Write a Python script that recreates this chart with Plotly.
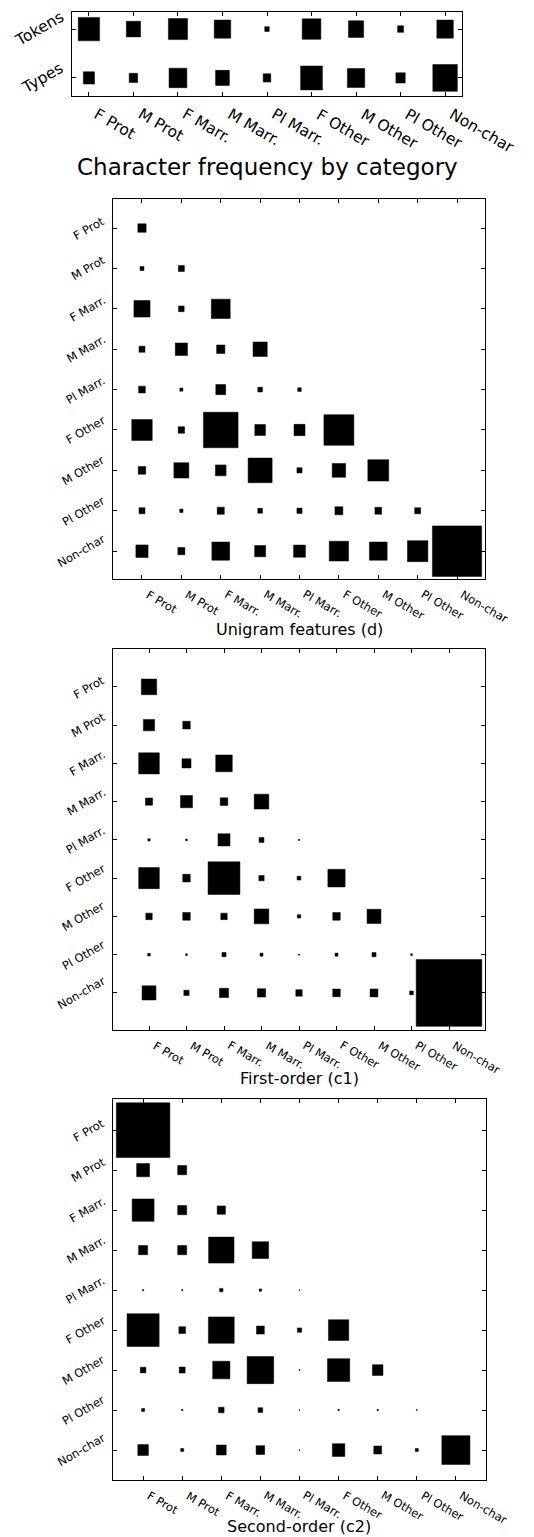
import math
import plotly.graph_objects as go

categories = ["F Prot", "M Prot", "F Marr.", "M Marr.", "Pl Marr.",
              "F Other", "M Other", "Pl Other", "Non-char"]
freq_rows = ["Tokens", "Types"]

# Hinton weights (square area ~ weight)
tokens = [0.230, 0.102, 0.185, 0.137, 0.010, 0.176, 0.116, 0.018, 0.137]
types_ = [0.063, 0.036, 0.160, 0.096, 0.029, 0.240, 0.152, 0.044, 0.303]

unigram = [
    [0.044],
    [0.010, 0.023],
    [0.168, 0.020, 0.230],
    [0.023, 0.096, 0.044, 0.130],
    [0.029, 0.006, 0.063, 0.014, 0.008],
    [0.270, 0.026, 0.774, 0.073, 0.078, 0.578],
    [0.036, 0.144, 0.073, 0.372, 0.017, 0.116, 0.281],
    [0.023, 0.007, 0.032, 0.014, 0.017, 0.040, 0.029, 0.023],
    [0.096, 0.032, 0.203, 0.078, 0.090, 0.240, 0.203, 0.270, 1.563],
]

first_order = [
    [0.168],
    [0.090, 0.040],
    [0.303, 0.058, 0.194],
    [0.036, 0.102, 0.040, 0.152],
    [0.0036, 0.002, 0.102, 0.017, 0.0012],
    [0.303, 0.040, 0.723, 0.020, 0.010, 0.212],
    [0.029, 0.040, 0.029, 0.152, 0.008, 0.040, 0.137],
    [0.0049, 0.002, 0.012, 0.0064, 0.0009, 0.0064, 0.012, 0.002],
    [0.137, 0.020, 0.058, 0.048, 0.029, 0.040, 0.044, 0.010, 3.063],
]

second_order = [
    [1.877],
    [0.109, 0.053],
    [0.314, 0.053, 0.044],
    [0.053, 0.053, 0.423, 0.176],
    [0.0012, 0.0009, 0.0072, 0.0036, 0.0004],
    [0.672, 0.029, 0.436, 0.040, 0.012, 0.270],
    [0.020, 0.023, 0.194, 0.462, 0.0006, 0.325, 0.073],
    [0.0059, 0.0012, 0.020, 0.014, 0.0004, 0.0012, 0.0012, 0.0007],
    [0.073, 0.0059, 0.063, 0.048, 0.0004, 0.102, 0.040, 0.0059, 0.518],
]

OFF = 8  # page body margin
W, H = 534 - OFF, 1537 - OFF
FONT = "DejaVu Sans"


def squares(matrix):
    xs, ys = [], []
    for i, row in enumerate(matrix):
        for j, w in enumerate(row):
            s = math.sqrt(w) / 2
            xs += [j - s, j + s, j + s, j - s, j - s, None]
            ys += [i - s, i - s, i + s, i + s, i - s, None]
    return xs, ys


def fx(px):
    return (px - OFF) / W


def fy(py):
    return 1 - (py - OFF) / H


fig = go.Figure()

panels = [
    # matrix, suffix, x px, y px, xrange, yrange, y labels, font, x-label gap
    ([tokens, types_], "", (72, 462), (12, 96), [-0.38, 8.38], [1.37, -0.35], freq_rows, 15.5, 8),
    (unigram, "2", (113, 485), (199, 579), [-0.736, 8.71], [8.69, -0.72], categories, 11.5, 7),
    (first_order, "3", (113, 485), (649, 1030), [-0.96, 8.96], [8.97, -0.99], categories, 11.5, 7),
    (second_order, "4", (113, 486), (1099, 1480), [-0.77, 8.77], [8.75, -0.78], categories, 11.5, 7),
]

for mat, suf, xd, yd, xr, yr, ylabels, fs, gap in panels:
    xs, ys = squares(mat)
    xa, ya = "x" + suf, "y" + suf
    fig.add_trace(go.Scatter(
        x=xs, y=ys, mode="lines", fill="toself", fillcolor="black",
        line=dict(color="black", width=0.5), hoverinfo="skip", showlegend=False,
        xaxis=xa, yaxis=ya,
    ))
    common = dict(showgrid=False, zeroline=False, showline=True, linecolor="black",
                  linewidth=1, mirror="ticks", ticks="inside", ticklen=4,
                  tickcolor="black", automargin=False, showticklabels=False)
    fig.layout["xaxis" + suf] = dict(
        domain=[fx(xd[0]), fx(xd[1])], range=xr, anchor=ya,
        tickvals=list(range(len(categories))), **common)
    fig.layout["yaxis" + suf] = dict(
        domain=[fy(yd[1]), fy(yd[0])], range=yr, anchor=xa,
        tickvals=list(range(len(ylabels))), **common)
    # tick labels as rotated annotations (matplotlib-like anchoring)
    for j, lab in enumerate(categories):
        fig.add_annotation(text=lab, x=j, xref=xa, y=fy(yd[1]), yref="paper",
                           yshift=-gap, xshift=0, textangle=30, showarrow=False,
                           xanchor="left", yanchor="top", borderpad=0,
                           font=dict(family=FONT, size=fs, color="black"))
    for i, lab in enumerate(ylabels):
        fig.add_annotation(text=lab, x=fx(xd[0]), xref="paper", y=i, yref=ya,
                           xshift=-4, textangle=-30, showarrow=False,
                           xanchor="right", yanchor="middle", borderpad=0,
                           font=dict(family=FONT, size=fs, color="black"))

titles = [
    ("Character frequency by category", 267, 167, 23),
    ("Unigram features (d)", 299, 629, 16),
    ("First-order (c1)", 299, 1078, 16),
    ("Second-order (c2)", 299, 1526, 16),
]
for text, cx, cy, fs in titles:
    fig.add_annotation(text=text, x=fx(cx), y=fy(cy), xref="paper", yref="paper",
                       showarrow=False, xanchor="center", yanchor="middle",
                       borderpad=0, font=dict(family=FONT, size=fs, color="black"))

fig.update_layout(width=W, height=H, margin=dict(l=0, r=0, t=0, b=0, autoexpand=False),
                  paper_bgcolor="white", plot_bgcolor="white")

fig.write_html("out.html")
